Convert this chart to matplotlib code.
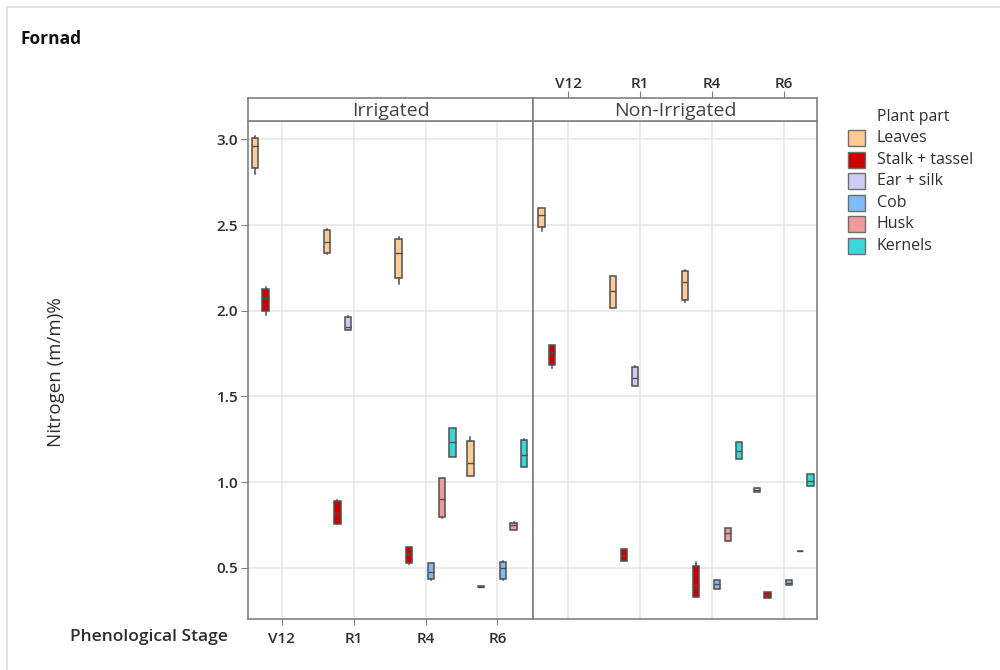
import matplotlib
matplotlib.use("Agg")
import matplotlib.pyplot as plt
from matplotlib.patches import Rectangle
from matplotlib.lines import Line2D

plt.rcParams['font.family'] = ['Open Sans', 'DejaVu Sans']

# ---- data: box statistics (whislo, q1, median, q3, whishi) per stage ----
stages = ["V12", "R1", "R4", "R6"]
parts = ["Leaves", "Stalk + tassel", "Ear + silk", "Cob", "Husk", "Kernels"]
part_colors = ["#FDCB93", "#CC0000", "#CFCBF7", "#7FBCF5", "#EE9B9B", "#38D8D8"]
treatments = ["Irrigated", "Non-Irrigated"]

irr_leaves = [(2.80, 2.83, 2.96, 3.01, 3.02), (2.33, 2.335, 2.40, 2.47, 2.475),
              (2.155, 2.19, 2.335, 2.42, 2.43), (1.035, 1.036, 1.11, 1.24, 1.262)]
irr_stalk = [(1.977, 1.996, 2.074, 2.127, 2.137), (0.755, 0.757, 0.818, 0.888, 0.898),
             (0.52, 0.529, 0.58, 0.619, 0.62), (0.385, 0.387, 0.39, 0.393, 0.395)]
irr_ear = [None, (1.886, 1.888, 1.907, 1.966, 1.968), None, None]
irr_cob = [None, None, (0.428, 0.437, 0.477, 0.525, 0.53), (0.426, 0.436, 0.498, 0.533, 0.54)]
irr_husk = [None, None, (0.79, 0.794, 0.90, 1.022, 1.025), (0.72, 0.72, 0.751, 0.763, 0.765)]
irr_kernels = [None, None, (1.145, 1.147, 1.231, 1.313, 1.316), (1.088, 1.09, 1.159, 1.248, 1.25)]

non_leaves = [(2.466, 2.486, 2.559, 2.60, 2.60), (2.013, 2.013, 2.112, 2.20, 2.20),
              (2.05, 2.06, 2.17, 2.233, 2.235), (0.942, 0.942, 0.955, 0.967, 0.967)]
non_stalk = [(1.665, 1.681, 1.759, 1.798, 1.80), (0.538, 0.541, 0.576, 0.611, 0.612),
             (0.332, 0.332, 0.399, 0.511, 0.531), (0.323, 0.323, 0.34, 0.358, 0.358)]
non_ear = [None, (1.558, 1.558, 1.609, 1.671, 1.68), None, None]
non_cob = [None, None, (0.375, 0.375, 0.405, 0.43, 0.43), (0.397, 0.397, 0.41, 0.426, 0.426)]
non_husk = [None, None, (0.658, 0.658, 0.70, 0.734, 0.734), (0.595, 0.596, 0.597, 0.598, 0.599)]
non_kernels = [None, None, (1.132, 1.132, 1.18, 1.231, 1.231), (0.975, 0.975, 1.008, 1.048, 1.048)]

irrigated = [irr_leaves, irr_stalk, irr_ear, irr_cob, irr_husk, irr_kernels]
non_irrigated = [non_leaves, non_stalk, non_ear, non_cob, non_husk, non_kernels]

# ---- layout helpers ----
W, H = 1000, 670
fig = plt.figure(figsize=(W / 100, H / 100), dpi=100)


def fx(px):
    return px / W


def fy(py):
    return 1 - py / H


frame_col = "#808080"
grid_col = "#E6E6E6"
edge_col = "#505050"
text_col = "#2E2E2E"

# thin outer frame lines of the page
fig.add_artist(Line2D([fx(7), 1], [fy(6.5), fy(6.5)], transform=fig.transFigure,
                      color="#DDDDDD", lw=1.2))
fig.add_artist(Line2D([fx(7), fx(7)], [fy(6.5), 0], transform=fig.transFigure,
                      color="#DDDDDD", lw=1.2))

panel_top, panel_bot, strip_top = 121, 619.3, 98.3
panels = [(248, 533.3), (533.3, 817.3)]
xlims = [(-0.47, 3.5), (-0.49, 3.47)]
ylim = (0.199, 3.107)

offsets = [-0.375 + 0.15 * j for j in range(len(parts))]
box_w = 0.088

for k, (x0, x1) in enumerate(panels):
    ax = fig.add_axes([fx(x0), fy(panel_bot), fx(x1) - fx(x0), fy(panel_top) - fy(panel_bot)])
    ax.set_xlim(*xlims[k])
    ax.set_ylim(*ylim)
    ax.set_xticks(range(len(stages)))
    ax.set_yticks([0.5, 1.0, 1.5, 2.0, 2.5, 3.0])
    ax.grid(True, color=grid_col, lw=1.1)
    ax.set_axisbelow(True)
    for s in ax.spines.values():
        s.set_color(frame_col)
        s.set_linewidth(1.2)

    data = irrigated if k == 0 else non_irrigated
    for j, series in enumerate(data):
        stats, pos = [], []
        for i, v in enumerate(series):
            if v is None:
                continue
            lo, q1, med, q3, hi = v
            stats.append(dict(whislo=lo, q1=q1, med=med, q3=q3, whishi=hi, fliers=[]))
            pos.append(i + offsets[j])
        if not stats:
            continue
        ax.bxp(stats, positions=pos, widths=box_w, patch_artist=True, showcaps=False,
               showfliers=False, manage_ticks=False,
               boxprops=dict(facecolor=part_colors[j], edgecolor=edge_col, lw=1.1),
               medianprops=dict(color=edge_col, lw=1.0),
               whiskerprops=dict(color=edge_col, lw=1.1))

    if k == 0:
        ax.set_xticklabels(stages)
        ax.tick_params(axis="x", length=4, color=frame_col, pad=5,
                       labelsize=11, labelcolor=text_col)
        for t in ax.get_xticklabels():
            t.set_fontweight("semibold")
        ax.tick_params(axis="y", length=5, color=frame_col, pad=2,
                       labelsize=11, labelcolor=text_col)
        ax.set_yticklabels(["0.5", "1.0", "1.5", "2.0", "2.5", "3.0"])
        for t in ax.get_yticklabels():
            t.set_fontweight("semibold")
    else:
        ax.tick_params(axis="x", length=0, labelbottom=False)
        ax.tick_params(axis="y", length=0, labelleft=False)

    # facet strip
    sax = fig.add_axes([fx(x0), fy(panel_top), fx(x1) - fx(x0), fy(strip_top) - fy(panel_top)])
    sax.set_xlim(*xlims[k])
    sax.set_ylim(0, 1)
    sax.set_yticks([])
    for s in sax.spines.values():
        s.set_color(frame_col)
        s.set_linewidth(1.2)
    sax.text(0.5, 0.45, treatments[k], transform=sax.transAxes, ha="center", va="center",
             fontsize=14, color="#444444")
    if k == 1:
        sax.xaxis.tick_top()
        sax.set_xticks(range(len(stages)))
        sax.set_xticklabels(stages)
        sax.tick_params(axis="x", length=5, color=frame_col, pad=0.5,
                        labelsize=11, labelcolor=text_col)
        for t in sax.get_xticklabels():
            t.set_fontweight("semibold")
    else:
        sax.set_xticks([])

# titles and axis labels
fig.text(fx(20), fy(39), "Fornad", fontsize=12.5, fontweight="bold", color="#111111",
         ha="left", va="center")
fig.text(fx(56), fy(372), "Nitrogen (m/m)%", fontsize=13.5, color=text_col,
         rotation=90, ha="center", va="center")
fig.text(fx(70), fy(637), "Phenological Stage", fontsize=12.5, fontweight="semibold",
         color=text_col, ha="left", va="center")

# legend
fig.text(fx(877), fy(117), "Plant part", fontsize=11.3, color=text_col, ha="left", va="center")
rows = [138, 160, 181, 203, 224, 246]
for name, col, yc in zip(parts, part_colors, rows):
    fig.add_artist(Rectangle((fx(848), fy(yc + 8)), fx(17), fy(yc - 8) - fy(yc + 8),
                             transform=fig.transFigure, facecolor=col,
                             edgecolor="#6E6E6E", lw=1.0))
    fig.text(fx(877), fy(yc), name, fontsize=11.5, color=text_col, ha="left", va="center")

fig.savefig("out.png", dpi=100, facecolor="white")
